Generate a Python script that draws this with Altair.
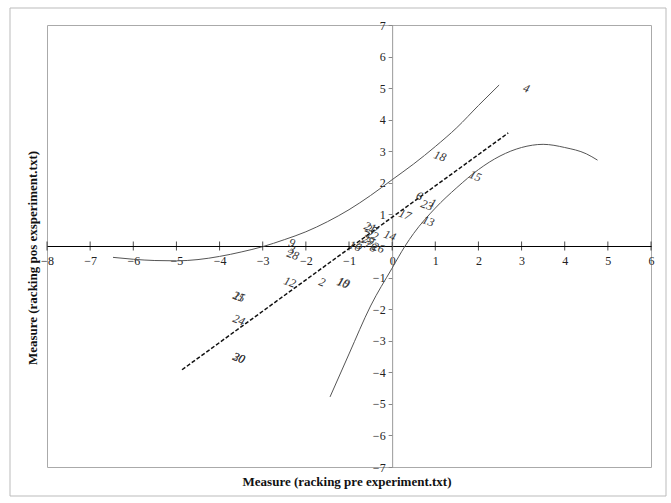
import altair as alt
import pandas as pd

# ---- data ----
labels = [str(i) for i in range(1, 31)]
pre = [0.95, -1.62, -2.32, 3.11, -0.74, 0.63, -0.58, -0.44, -2.32, -1.14,
       -3.55, -2.37, 0.84, -0.05, 1.93, -0.86, 0.30, 1.11, -1.12, -3.55,
       -0.51, -0.46, 0.81, -3.55, -3.55, -0.32, -0.48, -2.30, -0.55, -3.55]
pos = [1.36, -1.14, -0.10, 5.00, 0.02, 1.58, 0.05, -0.05, 0.10, -1.17,
       -1.60, -1.14, 0.79, 0.33, 2.22, 0.00, 1.00, 2.85, -1.15, -3.54,
       0.60, 0.35, 1.30, -2.34, -1.60, -0.05, 0.52, -0.27, 0.20, -3.54]

upper_x = [-6.47, -6.0, -5.5, -5.0, -4.5, -4.0, -3.5, -3.0, -2.5, -2.0,
           -1.5, -1.0, -0.5, 0.0, 0.5, 1.0, 1.5, 2.0, 2.48]
upper_y = [-0.36, -0.42, -0.46, -0.47, -0.43, -0.33, -0.19, -0.02, 0.2, 0.45,
           0.77, 1.15, 1.6, 2.1, 2.6, 3.15, 3.75, 4.45, 5.1]

lower_x = [-1.44, -1.0, -0.5, 0.0, 0.3, 0.5, 1.0, 1.5, 2.0, 2.5,
           3.0, 3.5, 4.0, 4.5, 4.76]
lower_y = [-4.78, -3.42, -1.9, -0.7, 0.0, 0.4, 1.2, 1.85, 2.42, 2.85,
           3.12, 3.22, 3.12, 2.92, 2.72]

ident_x = [-4.87, 2.69]
ident_y = [-3.92, 3.58]

x_ticks = list(range(-8, 7))
y_ticks = [v for v in range(-7, 8) if v != 0]

W, H = 604, 442
SERIF = "Liberation Serif"

pts = pd.DataFrame({"label": labels, "pre": pre, "pos": pos})
up = pd.DataFrame({"pre": upper_x, "pos": upper_y})
lo = pd.DataFrame({"pre": lower_x, "pos": lower_y})
idl = pd.DataFrame({"pre": ident_x, "pos": ident_y})
xt = pd.DataFrame({"pre": x_ticks, "pos": [0] * len(x_ticks)})
one = pd.DataFrame({"a": [0]})

xs = alt.Scale(domain=[-8, 6], nice=False, zero=False)
ys = alt.Scale(domain=[-7, 7], nice=False, zero=False)

x_axis = alt.Axis(values=x_ticks, orient="bottom", offset=-H / 2, title=None,
                  grid=False, ticks=False, domainColor="#000000", domainWidth=1,
                  labelFont=SERIF, labelFontSize=12, labelColor="#222222",
                  labelPadding=9, labelFlush=False, labelOverlap=False, format="d")
y_axis = alt.Axis(values=y_ticks, orient="left", offset=-(8 / 14) * W, title=None,
                  grid=False, ticks=True, tickSize=4, tickColor="#888888",
                  domainColor="#999999", domainWidth=1,
                  labelFont=SERIF, labelFontSize=12, labelColor="#222222",
                  labelPadding=3, labelFlush=False, labelOverlap=False, format="d")

X = alt.X("pre:Q", scale=xs, axis=x_axis)
Y = alt.Y("pos:Q", scale=ys, axis=y_axis)

upper = alt.Chart(up).mark_line(color="#555555", strokeWidth=1,
                                interpolate="monotone").encode(x=X, y=Y, order="pre:Q")
lower = alt.Chart(lo).mark_line(color="#555555", strokeWidth=1,
                                interpolate="monotone").encode(x=X, y=Y, order="pre:Q")
ident = alt.Chart(idl).mark_line(color="#111111", strokeWidth=1.5,
                                 strokeDash=[4, 2]).encode(x=X, y=Y)

xticks = alt.Chart(xt).mark_tick(orient="vertical", size=9, thickness=1,
                                 color="#000000").encode(x=X, y=Y)

text = alt.Chart(pts).mark_text(font=SERIF, fontSize=12, fontStyle="italic",
                                angle=20, color="#333333").encode(
    x=X, y=Y, text="label:N")

xtitle = alt.Chart(one).mark_text(font=SERIF, fontSize=13, fontWeight="bold",
                                  color="#111111").encode(
    x=alt.value(W / 2 - 2), y=alt.value(H + 15),
    text=alt.value("Measure (racking pre experiment.txt)"))
ytitle = alt.Chart(one).mark_text(font=SERIF, fontSize=13, fontWeight="bold",
                                  color="#111111", angle=270).encode(
    x=alt.value(-14), y=alt.value(H / 2 + 12),
    text=alt.value("Measure (racking pos exsperiment.txt)"))

frame = alt.Chart(one).mark_rect(fill=None, stroke="#bbbbbb", strokeWidth=1).encode(
    x=alt.value(-37), x2=alt.value(619), y=alt.value(-17), y2=alt.value(471))

chart = alt.layer(upper, lower, ident, xticks, text, xtitle, ytitle, frame).properties(
    width=W, height=H,
    autosize=alt.AutoSizeParams(type="none"),
    padding={"left": 47, "top": 25, "right": 20, "bottom": 36},
    background="white",
).configure_view(stroke="#aaaaaa", strokeWidth=1)

chart.save("out.html", embed_options={"renderer": "svg", "actions": False})
